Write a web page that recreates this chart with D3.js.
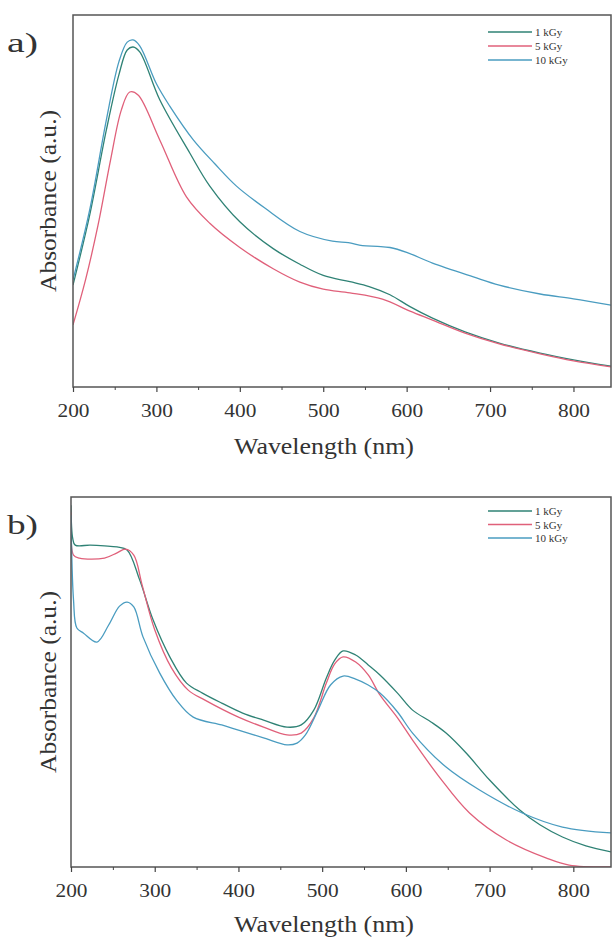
<!DOCTYPE html>
<html>
<head>
<meta charset="utf-8">
<script src="https://cdn.jsdelivr.net/npm/d3@7"></script>
<style>
body { margin: 0; background: #fff; }
text { font-family: "Liberation Serif", "DejaVu Serif", serif; fill: #333; }
</style>
</head>
<body>
<script>
var width = 614, height = 943;

var labels = ["1 kGy", "5 kGy", "10 kGy"];
var colors = ["#2f8275", "#e0607a", "#4a9cc0"];
var xTicks = [200, 300, 400, 500, 600, 700, 800];
var xMinor = [250, 350, 450, 550, 650, 750];

// panel a
var wlA1 = [200,220,240,255,265,272,280,304,340,364,400,440,472,500,532,555,580,604,631,670,711,760,800,845];
var absA1 = [0.274,0.462,0.691,0.839,0.906,0.914,0.901,0.772,0.629,0.540,0.444,0.372,0.330,0.300,0.283,0.270,0.248,0.216,0.185,0.148,0.118,0.091,0.073,0.056];
var wlA5 = [200,215,230,245,258,268,278,304,336,364,400,440,472,500,532,571,604,631,670,711,760,800,845];
var absA5 = [0.167,0.288,0.435,0.610,0.745,0.793,0.785,0.664,0.511,0.440,0.375,0.318,0.282,0.263,0.253,0.236,0.204,0.180,0.145,0.116,0.089,0.070,0.054];
var wlA10 = [200,220,240,255,265,272,280,300,316,344,370,396,430,472,511,530,547,565,580,600,631,680,711,760,800,845];
var absA10 = [0.288,0.476,0.718,0.874,0.927,0.933,0.917,0.815,0.755,0.665,0.600,0.540,0.481,0.418,0.392,0.388,0.380,0.378,0.375,0.362,0.333,0.296,0.274,0.250,0.237,0.220];

// panel b
var wlB1 = [200,202,205,223,240,255,267,282,298,318,338,357,380,405,430,458,475,490,505,515,525,540,555,569,590,608,630,648,672,700,736,760,787,815,845];
var absB1 = [0.978,0.889,0.870,0.870,0.868,0.865,0.857,0.776,0.668,0.568,0.497,0.470,0.443,0.416,0.397,0.378,0.384,0.424,0.511,0.559,0.584,0.573,0.546,0.519,0.470,0.424,0.392,0.362,0.308,0.235,0.154,0.114,0.081,0.057,0.041];
var wlB5 = [200,203,210,240,255,265,275,285,300,320,340,360,400,430,458,475,490,505,515,525,540,555,569,590,608,640,676,720,768,795,845];
var absB5 = [0.959,0.843,0.835,0.835,0.849,0.859,0.843,0.762,0.641,0.538,0.478,0.451,0.405,0.378,0.357,0.362,0.403,0.497,0.549,0.568,0.554,0.519,0.465,0.403,0.343,0.243,0.146,0.073,0.024,0.005,0.0];
var wlB10 = [200,203,207,215,231,245,258,267,275,286,306,326,346,380,400,430,458,470,480,495,510,525,540,555,569,590,608,648,688,739,787,845];
var absB10 = [0.951,0.722,0.646,0.632,0.608,0.654,0.705,0.716,0.703,0.622,0.524,0.451,0.405,0.384,0.370,0.349,0.330,0.335,0.357,0.424,0.492,0.516,0.508,0.492,0.470,0.419,0.362,0.270,0.208,0.146,0.108,0.092];

var svg = d3.select("body").append("svg")
    .attr("width", width)
    .attr("height", height);

function zip(wl, ab) {
  return wl.map(function(d, i) { return [d, ab[i]]; });
}

function panel(opt) {
  var x = d3.scaleLinear().domain([200, 845]).range([opt.left, 611]);
  var y = d3.scaleLinear().domain([0, 1]).range([opt.bottom, opt.bottom - opt.h]);

  var g = svg.append("g");

  var line = d3.line()
      .curve(d3.curveCatmullRom.alpha(0.5))
      .x(function(d) { return x(d[0]); })
      .y(function(d) { return y(d[1]); });

  g.append("defs").append("clipPath").attr("id", "clip" + opt.name)
    .append("rect")
    .attr("x", opt.left).attr("y", opt.bottom - opt.h)
    .attr("width", 611 - opt.left).attr("height", opt.h);

  g.selectAll(".ln")
    .data(opt.series)
    .enter().append("path")
    .attr("clip-path", "url(#clip" + opt.name + ")")
    .attr("fill", "none")
    .attr("stroke", function(d, i) { return colors[i]; })
    .attr("stroke-width", 1.3)
    .attr("d", function(d) { return line(d); });

  // frame
  g.append("rect")
    .attr("x", opt.left).attr("y", opt.bottom - opt.h)
    .attr("width", 611 - opt.left).attr("height", opt.h)
    .attr("fill", "none")
    .attr("stroke", "#555")
    .attr("stroke-width", 1.5);

  // bottom axis
  var ax = g.append("g")
    .attr("transform", "translate(0," + opt.bottom + ")")
    .call(d3.axisBottom(x).tickValues(xTicks).tickSize(5).tickPadding(12).tickFormat(d3.format("d")));
  ax.select(".domain").remove();
  ax.selectAll("line").attr("stroke", "#444").attr("stroke-width", 1.2);
  ax.selectAll("text").attr("font-size", 18).attr("fill", "#333")
    .attr("font-family", "Liberation Serif")
    .attr("textLength", 32).attr("lengthAdjust", "spacingAndGlyphs");

  var minor = g.append("g")
    .attr("transform", "translate(0," + opt.bottom + ")")
    .call(d3.axisBottom(x).tickValues(xMinor).tickSize(3).tickFormat(""));
  minor.select(".domain").remove();
  minor.selectAll("line").attr("stroke", "#444").attr("stroke-width", 1);

  g.append("text")
    .attr("x", 324).attr("y", opt.bottom + opt.xlabDy)
    .attr("text-anchor", "middle")
    .attr("font-size", 23)
    .attr("textLength", 180).attr("lengthAdjust", "spacingAndGlyphs")
    .text("Wavelength (nm)");

  g.append("text")
    .attr("transform", "translate(56," + (opt.bottom - opt.h / 2) + ") rotate(-90)")
    .attr("text-anchor", "middle")
    .attr("font-size", 23)
    .attr("textLength", 182).attr("lengthAdjust", "spacingAndGlyphs")
    .text("Absorbance (a.u.)");

  g.append("text")
    .attr("x", 7).attr("y", opt.bottom - opt.h + 37)
    .attr("font-size", 28)
    .attr("textLength", 31).attr("lengthAdjust", "spacingAndGlyphs")
    .text(opt.name + ")");

  // legend
  var lg = g.selectAll(".lg")
    .data(labels)
    .enter().append("g")
    .attr("transform", function(d, i) { return "translate(0," + (opt.legY + i * opt.legStep) + ")"; });
  lg.append("line")
    .attr("x1", opt.legX).attr("x2", opt.legX + 44)
    .attr("stroke", function(d, i) { return colors[i]; })
    .attr("stroke-width", 1.3);
  lg.append("text")
    .attr("x", opt.legX + 47).attr("y", 4)
    .attr("font-size", 11)
    .text(function(d) { return d; });
}

panel({
  name: "a", left: 73, bottom: 387, h: 372, legX: 488, legY: 32, legStep: 14, xlabDy: 67,
  series: [zip(wlA1, absA1), zip(wlA5, absA5), zip(wlA10, absA10)]
});

panel({
  name: "b", left: 71, bottom: 867, h: 370, legX: 488, legY: 511, legStep: 13.5, xlabDy: 65,
  series: [zip(wlB1, absB1), zip(wlB5, absB5), zip(wlB10, absB10)]
});
</script>
</body>
</html>
